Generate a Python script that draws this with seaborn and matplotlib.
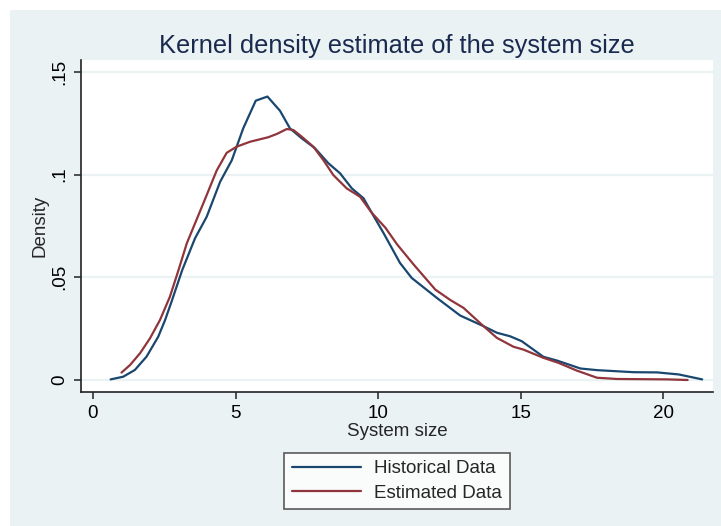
import matplotlib
matplotlib.use("Agg")
import matplotlib.pyplot as plt
import seaborn as sns
import pandas as pd
from matplotlib.patches import Rectangle

# ---- data ----
hist_x = [0.62, 1.06, 1.47, 1.88, 2.29, 2.53, 2.76, 3.13, 3.58, 3.99, 4.46, 4.87,
          5.27, 5.71, 6.12, 6.56, 6.91, 7.32, 7.79, 8.26, 8.67, 9.08, 9.49, 9.78,
          10.19, 10.77, 11.18, 12.06, 12.88, 13.7, 14.17, 14.63, 15.04, 15.8, 16.27,
          17.1, 17.68, 18.97, 19.79, 20.55, 21.37]
hist_y = [0.0003, 0.0016, 0.0049, 0.0114, 0.0211, 0.0292, 0.0383, 0.0535, 0.069,
          0.0795, 0.0965, 0.107, 0.1225, 0.136, 0.138, 0.1311, 0.1225, 0.1177,
          0.1128, 0.1055, 0.1006, 0.0933, 0.0885, 0.0814, 0.0716, 0.057, 0.0497,
          0.040, 0.0314, 0.0262, 0.023, 0.0213, 0.0189, 0.0113, 0.0095, 0.0056,
          0.0048, 0.0038, 0.0037, 0.0027, 0.0003]

est_x = [1.0, 1.3, 1.65, 2.0, 2.35, 2.7, 3.0, 3.29, 3.87, 4.34, 4.69, 5.04, 5.51, 6.15,
         6.45, 6.8, 7.03, 7.32, 7.73, 8.08, 8.43, 8.9, 9.37, 9.78, 10.26, 10.67,
         11.25, 12.01, 12.54, 13.0, 13.7, 14.17, 14.75, 15.1, 15.8, 16.32, 16.97,
         17.68, 18.38, 20.15, 20.86]
est_y = [0.0036, 0.0073, 0.013, 0.0203, 0.0292, 0.0406, 0.0535, 0.0665, 0.086, 0.102,
         0.1106, 0.1136, 0.116, 0.1182, 0.1198, 0.1222, 0.1217, 0.1185, 0.1136,
         0.1071, 0.0998, 0.0933, 0.0892, 0.0814, 0.0741, 0.066, 0.0562, 0.044,
         0.0389, 0.0351, 0.0262, 0.0205, 0.0162, 0.0148, 0.0108, 0.0084, 0.0046,
         0.0011, 0.0005, 0.0003, 0.0]

series_labels = ["Historical Data", "Estimated Data"]
x_ticks = [0, 5, 10, 15, 20]
x_tick_labels = ["0", "5", "10", "15", "20"]
y_ticks = [0, 0.05, 0.1, 0.15]
y_tick_labels = ["0", ".05", ".1", ".15"]
title = "Kernel density estimate of the system size"
x_label = "System size"
y_label = "Density"

# ---- style ----
sns.set_style("white")
plt.rcParams["font.family"] = ["Liberation Sans", "DejaVu Sans"]

BG = "#EAF2F3"
NAVY = "#1A476F"
MAROON = "#90353B"
AXC = "#222222"
FS = 13.5

fig = plt.figure(figsize=(7.21, 5.26), dpi=100)
fig.patch.set_facecolor("white")
fig.patches.append(Rectangle((10 / 721, 0), 1 - 10 / 721, 1 - 10 / 526,
                             transform=fig.transFigure, facecolor=BG,
                             edgecolor="none", zorder=-10))

ax = fig.add_axes([81 / 721, (526 - 392) / 526, (713 - 81) / 721, (392 - 60) / 526])
ax.set_facecolor("white")

df_h = pd.DataFrame({"x": hist_x, "y": hist_y})
df_e = pd.DataFrame({"x": est_x, "y": est_y})
sns.lineplot(data=df_h, x="x", y="y", ax=ax, color=NAVY, lw=1.6, sort=False,
             estimator=None, label=series_labels[0], zorder=3)
sns.lineplot(data=df_e, x="x", y="y", ax=ax, color=MAROON, lw=1.6, sort=False,
             estimator=None, label=series_labels[1], zorder=3)

ax.set_xlim(-0.42, 21.75)
ax.set_ylim(-0.00584, 0.1558)

ax.set_xticks(x_ticks)
ax.set_xticklabels(x_tick_labels, fontsize=FS)
ax.set_yticks(y_ticks)
ax.set_yticklabels(y_tick_labels, fontsize=FS, rotation=90, va="center")

ax.yaxis.grid(True, color=BG, lw=1.6)
ax.xaxis.grid(False)
ax.set_axisbelow(True)

for s in ["top", "right"]:
    ax.spines[s].set_visible(False)
for s in ["left", "bottom"]:
    ax.spines[s].set_color(AXC)
    ax.spines[s].set_linewidth(1.2)

ax.tick_params(axis="both", direction="out", length=5.2, width=1.1, color=AXC,
               labelcolor="black", pad=4)
ax.tick_params(axis="both", which="both", left=True, bottom=True)

ax.set_xlabel(x_label, fontsize=FS, labelpad=1)
ax.set_ylabel(y_label, fontsize=FS, labelpad=2)

ax.set_title(title, fontsize=18.3, color="#1A2A4F", pad=5,
             family=["Liberation Sans Narrow", "Liberation Sans", "DejaVu Sans"])

ax.get_legend().remove()
handles, labels = ax.get_legend_handles_labels()
leg = fig.legend(handles, labels, loc="center",
                 bbox_to_anchor=((285 + 509) / 2 / 721, 1 - (452 + 510) / 2 / 526),
                 fontsize=FS, frameon=True, fancybox=False, handlelength=3.7,
                 handletextpad=0.7, borderpad=0.4, labelspacing=0.4,
                 borderaxespad=0)
leg.get_frame().set_edgecolor("#333333")
leg.get_frame().set_linewidth(1.2)
leg.get_frame().set_facecolor("white")

fig.savefig("out.png", dpi=100, facecolor=fig.get_facecolor())
